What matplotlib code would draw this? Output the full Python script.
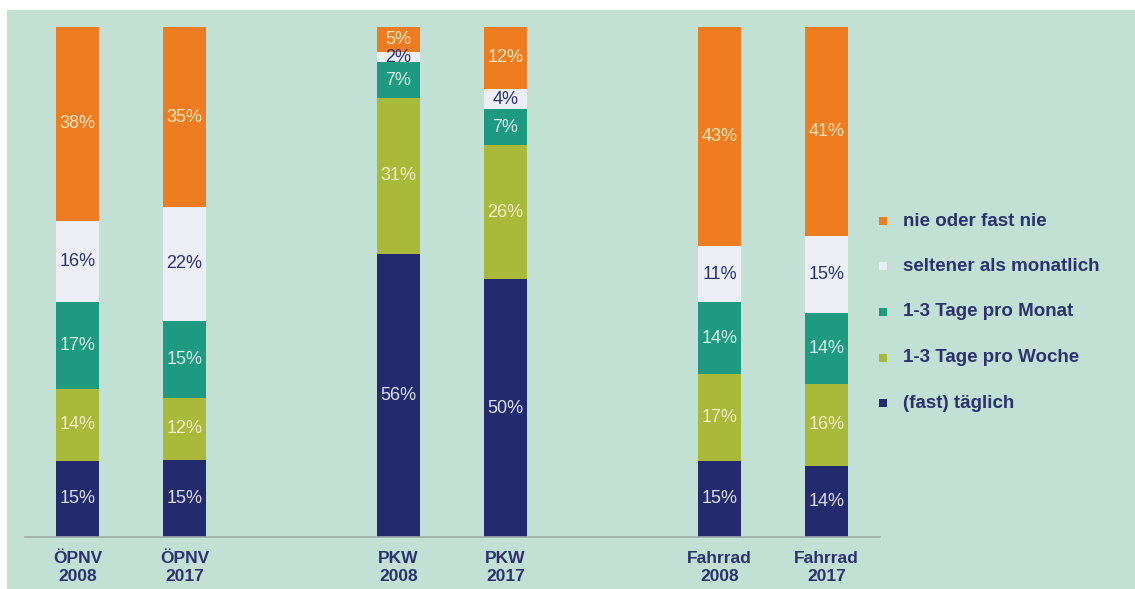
import matplotlib
matplotlib.use('Agg')
import matplotlib.pyplot as plt
import matplotlib.patches as patches
import numpy as np

plt.rcParams['font.family'] = ['Liberation Sans', 'DejaVu Sans']

# data
groups = ['ÖPNV\n2008', 'ÖPNV\n2017', 'PKW\n2008', 'PKW\n2017', 'Fahrrad\n2008', 'Fahrrad\n2017']
positions = [0, 1, 3, 4, 6, 7]
categories = ['(fast) täglich', '1-3 Tage pro Woche', '1-3 Tage pro Monat',
              'seltener als monatlich', 'nie oder fast nie']
taeglich = [15, 15, 56, 50, 15, 14]
pro_woche = [14, 12, 31, 26, 17, 16]
pro_monat = [17, 15, 7, 7, 14, 14]
seltener = [16, 22, 2, 4, 11, 15]
nie = [38, 35, 5, 12, 43, 41]

series = [taeglich, pro_woche, pro_monat, seltener, nie]
colors = ['#232a6e', '#a9b93a', '#1e9a80', '#eceef5', '#ee7d22']
text_colors = ['#dcdfec', '#f3eec8', '#d8eee8', '#2a3370', '#f8e4bc']

W, H = 1135, 589
fig = plt.figure(figsize=(W / 100, H / 100), dpi=100)
fig.patch.set_facecolor('white')
bg = patches.Rectangle((7 / W, 0), 1 - 7 / W, (H - 10) / H, transform=fig.transFigure,
                       facecolor='#c3e0d4', edgecolor='none', zorder=-5)
fig.patches.append(bg)

ax = fig.add_axes([25 / W, (H - 537) / H, (880 - 25) / W, (537 - 27) / H])
ax.set_facecolor('none')
ax.set_zorder(2)

vals = np.array(series, dtype=float)
shares = vals / vals.sum(axis=0) * 100
bottom = np.zeros(len(groups))
for k in range(len(series)):
    ax.bar(positions, shares[k], 0.40, bottom=bottom, color=colors[k], linewidth=0)
    for p, b, s, v in zip(positions, bottom, shares[k], series[k]):
        ax.text(p, b + s / 2, f'{v}%', ha='center', va='center', fontsize=13,
                color=text_colors[k])
    bottom += shares[k]

ax.set_xlim(-0.49, 7.5)
ax.set_ylim(0, 100)
for s in ['top', 'right', 'left']:
    ax.spines[s].set_visible(False)
ax.spines['bottom'].set_color('#a0aaa6')
ax.spines['bottom'].set_linewidth(1.2)
ax.set_yticks([])
ax.set_xticks(positions)
ax.set_xticklabels(groups, fontsize=12.5, fontweight='bold', color='#2a3370', linespacing=1.25)
ax.tick_params(axis='x', length=0, pad=10)

# legend
for i, k in enumerate(range(len(categories) - 1, -1, -1)):
    y = 221 + i * 45.5
    sq = patches.Rectangle((879 / W, (H - y - 4) / H), 8 / W, 8 / H, transform=fig.transFigure,
                           facecolor=colors[k], edgecolor='none', zorder=3)
    fig.patches.append(sq)
    fig.text(903 / W, (H - y) / H, categories[k], fontsize=13.5, fontweight='bold',
             color='#2a3370', va='center', ha='left')

plt.savefig('out.png', dpi=100)
plt.close()
